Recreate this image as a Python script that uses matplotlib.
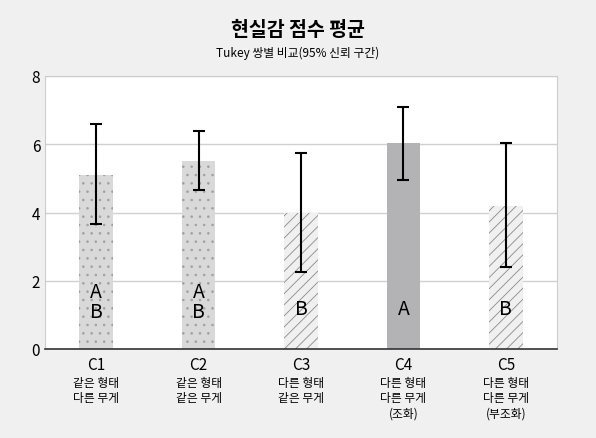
import matplotlib
matplotlib.use("Agg")
import matplotlib.pyplot as plt

plt.rcParams['font.family'] = ['Noto Sans CJK KR', 'DejaVu Sans']
plt.rcParams['hatch.linewidth'] = 0.6

cats = ["C1", "C2", "C3", "C4", "C5"]
sub = ["같은 형태\n다른 무게", "같은 형태\n같은 무게", "다른 형태\n같은 무게", "다른 형태\n다른 무게\n(조화)", "다른 형태\n다른 무게\n(부조화)"]
means = [5.1, 5.5, 4.0, 6.05, 4.2]
lo = [3.65, 4.65, 2.25, 4.95, 2.4]
hi = [6.6, 6.4, 5.75, 7.1, 6.05]
letters = ["A\nB", "A\nB", "B", "A", "B"]

fig = plt.figure(figsize=(5.96, 4.39), dpi=100, facecolor="#f0f0f0")
ax = fig.add_axes([45/596, 1-350/439, 512/596, 273/439])
ax.set_facecolor("white")
styles = [dict(fc="#d9d9d9", hatch="..", ec="#a0a0a0"),
          dict(fc="#d9d9d9", hatch="..", ec="#a0a0a0"),
          dict(fc="#f0f0f0", hatch="///", ec="#8a8a8a"),
          dict(fc="#b3b3b5", hatch=None, ec="#b3b3b5"),
          dict(fc="#f0f0f0", hatch="///", ec="#8a8a8a")]
x = range(len(cats))
for i in x:
    s = styles[i]
    ax.bar(i, means[i], width=0.33, color=s["fc"], hatch=s["hatch"], edgecolor=s["ec"], linewidth=0, zorder=2)
    ax.errorbar(i, means[i], yerr=[[means[i]-lo[i]], [hi[i]-means[i]]], fmt="none", ecolor="black", elinewidth=1.5, capsize=4, capthick=1.5, zorder=3)
    ax.text(i, 1.4 if "\n" in letters[i] else 1.2, letters[i], ha="center", va="center", fontsize=14, linespacing=0.95, zorder=4)
ax.set_xlim(-0.5, 4.5)
ax.set_ylim(0, 8)
ax.set_yticks([0, 2, 4, 6, 8])
ax.yaxis.grid(True, color="#d0d0d0", linewidth=1, zorder=0)
ax.set_xticks(list(x))
ax.set_xticklabels(cats)
ax.tick_params(axis="both", length=0, labelsize=11)
ax.tick_params(axis="x", pad=5)
for i in x:
    ax.text(i, -0.8, sub[i], ha="center", va="top", fontsize=8.5, linespacing=1.2)
for k in ["top", "right", "left"]:
    ax.spines[k].set_color("#cccccc")
ax.spines["bottom"].set_color("#333333")
ax.spines["bottom"].set_linewidth(1.2)
fig.text(0.5, 1-30/439, "현실감 점수 평균", ha="center", va="center", fontsize=14, fontweight="bold")
fig.text(0.5, 1-53/439, "Tukey 쌍별 비교(95% 신뢰 구간)", ha="center", va="center", fontsize=8.5)
fig.savefig("out.png", dpi=100, facecolor=fig.get_facecolor())
